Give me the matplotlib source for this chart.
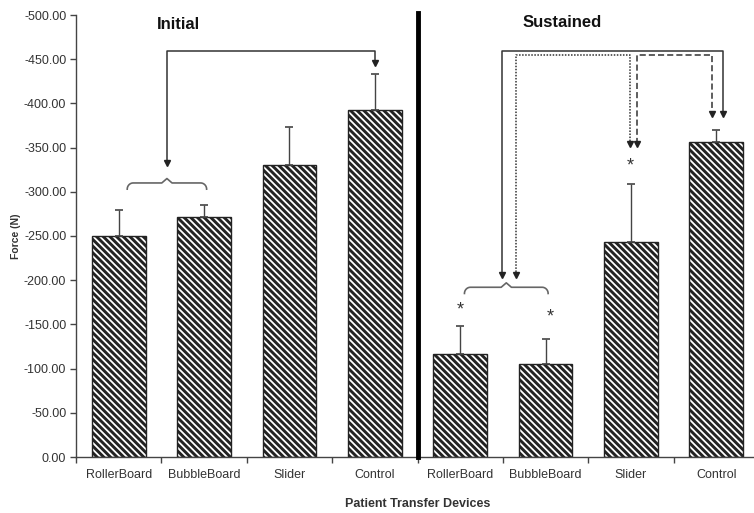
import numpy as np
import matplotlib
matplotlib.use("Agg")
import matplotlib.pyplot as plt
from matplotlib.ticker import FuncFormatter, FixedLocator

# data (force in N, negative = pulling)
devices = ["RollerBoard", "BubbleBoard", "Slider", "Control"]
initial_mean = [-250, -271, -330, -392]
initial_sd = [29, 14, 43, 41]
sustained_mean = [-116, -105, -243, -356]
sustained_sd = [32, 29, 66, 14]
phases = ["Initial", "Sustained"]

labels = devices + devices
means = np.array(initial_mean + sustained_mean, dtype=float)
sds = np.array(initial_sd + sustained_sd, dtype=float)
x = np.arange(len(labels)) + 0.5

plt.rcParams["font.family"] = ["Liberation Sans", "DejaVu Sans"]
plt.rcParams["hatch.linewidth"] = 2.1
plt.rcParams["hatch.color"] = "#111111"

fig = plt.figure(figsize=(7.54, 5.13), dpi=100)
ax = fig.add_axes([76 / 754, 56 / 513, 683 / 754, 442 / 513])

ax.bar(x, means, width=0.63, color="white", edgecolor="#222222",
       linewidth=1.0, hatch="\\" * 5, zorder=2)
ax.errorbar(x, means, yerr=[sds, np.zeros_like(sds)], fmt="none",
            ecolor="#444444", elinewidth=1.0, capsize=3, capthick=1.2, zorder=3)

ax.set_xlim(0, len(labels))
ax.set_ylim(0, -500)

# y axis
ax.yaxis.set_major_locator(FixedLocator(np.arange(0, -501, -50)))
ax.yaxis.set_major_formatter(FuncFormatter(lambda v, p: "%.2f" % v))
ax.tick_params(axis="y", length=4, width=1.0, color="#444444", labelsize=9,
               labelcolor="#333333", pad=3)
ax.set_ylabel("Force (N)", fontsize=7.5, fontweight="bold", color="#333333", labelpad=2)

# x axis: labels at centers, tick marks on boundaries
ax.set_xticks(x)
ax.set_xticklabels(labels)
ax.tick_params(axis="x", which="major", length=0, labelsize=9,
               labelcolor="#333333", pad=9)
ax.set_xticks(np.arange(0, len(labels) + 1), minor=True)
ax.tick_params(axis="x", which="minor", length=4, width=1.0, color="#444444")
ax.set_xlabel("Patient Transfer Devices", fontsize=9, fontweight="bold",
              color="#333333", labelpad=12)

for s in ["top", "right"]:
    ax.spines[s].set_visible(False)
for s in ["left", "bottom"]:
    ax.spines[s].set_color("#444444")
    ax.spines[s].set_linewidth(1.0)

# separator between phases
ax.plot([4, 4], [0, -502], color="black", lw=3.5, clip_on=False, zorder=4)

# phase titles
ax.text(1.2, -489, phases[0], ha="center", va="center", fontsize=12,
        fontweight="bold", color="#111111")
ax.text(5.7, -492, phases[1], ha="center", va="center", fontsize=12,
        fontweight="bold", color="#111111")


def brace(x0, x1, y, h=7, tip=5):
    # curly brace opening toward the bars (downward on screen)
    xm = (x0 + x1) / 2
    r = 0.07
    t = np.linspace(0, np.pi / 2, 12)
    left_end = np.column_stack([x0 + r - r * np.cos(t), y + h - h * np.sin(t)])
    right_end = np.column_stack([x1 - r + r * np.cos(t[::-1]), y + h - h * np.sin(t[::-1])])
    mid = np.array([[xm - 0.06, y], [xm, y - tip], [xm + 0.06, y]])
    pts = np.vstack([left_end, mid, right_end])
    ax.plot(pts[:, 0], pts[:, 1], color="#666666", lw=1.2, zorder=4)


def link(xa, xb, top, ya, yb, ls):
    ax.plot([xa, xa, xb, xb], [ya, top, top, yb], color="#333333", lw=1.1,
            ls=ls, zorder=4)
    ax.plot([xa, xb], [ya, yb], ls="none", marker="v", ms=5, color="#222222", zorder=5)


# Initial: RollerBoard/BubbleBoard vs Control
brace(0.6, 1.53, -310)
link(1.07, 3.5, -459.6, -333, -446, "-")

# Sustained comparisons
brace(4.55, 5.53, -192)
link(4.99, 7.58, -459.6, -206, -388, "-")
link(5.15, 6.49, -454.8, -206, -354, (0, (1, 1)))
link(6.57, 7.45, -454.8, -354, -388, (0, (4, 2)))

# significance stars
for xi, yi in [(4.5, -166), (5.55, -158), (6.49, -329)]:
    ax.text(xi, yi, "*", ha="center", va="center", fontsize=13, color="#333333",
            family=["Liberation Sans"])

fig.savefig("out.png", dpi=100)
